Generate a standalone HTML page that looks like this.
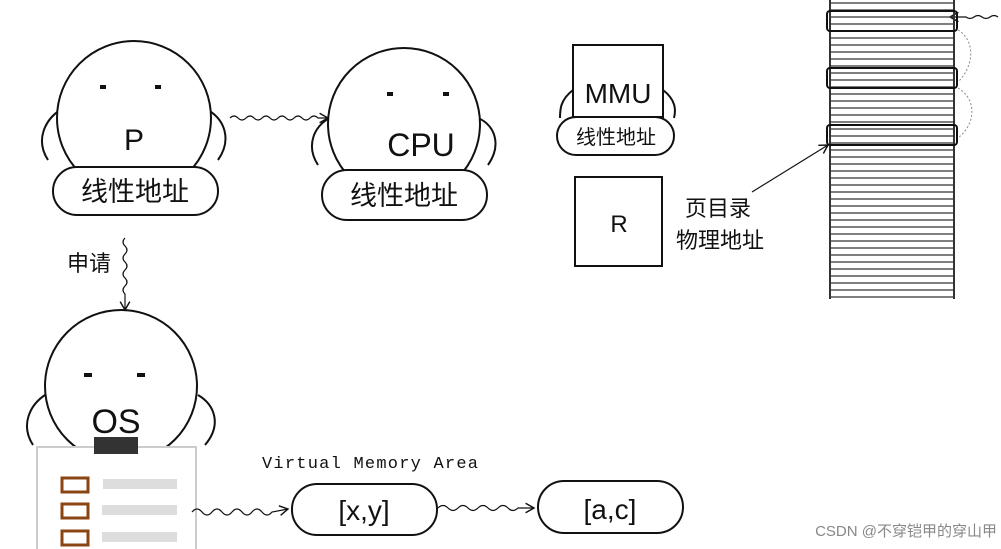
<!DOCTYPE html><html><head><style>body{margin:0;background:#fff}svg{display:block}
text{font-family:"Liberation Sans","Noto Sans CJK SC",sans-serif;fill:#111}</style></head><body>
<svg width="1001" height="549" viewBox="0 0 1001 549" xmlns="http://www.w3.org/2000/svg">
<defs><marker id="a" markerWidth="10" markerHeight="10" refX="8" refY="5" orient="auto"><path d="M1,1 L8,5 L1,9" fill="none" stroke="#111" stroke-width="1.2"/></marker></defs>
<g fill="none" stroke="#111" stroke-width="2">
<path d="M60,110 C45,120 35,140 48,160 M208,110 C225,120 232,140 218,160"/>
<circle cx="134" cy="118" r="77" fill="#fff"/>
<rect x="53" y="167" width="165" height="48" rx="24" fill="#fff"/>
<path d="M330,118 C315,125 305,145 318,165 M478,118 C495,125 502,145 488,165"/>
<circle cx="404" cy="124" r="76" fill="#fff"/>
<rect x="322" y="170" width="165" height="50" rx="25" fill="#fff"/>
<path d="M45,395 C30,405 20,425 33,445 M198,395 C215,405 222,425 205,445"/>
<circle cx="121" cy="386" r="76" fill="#fff"/>
<path d="M573,90 C560,100 560,110 560,118 M663,90 C676,100 676,110 674,118"/>
<rect x="573" y="45" width="90" height="72" fill="#fff"/>
<rect x="557" y="117" width="117" height="38" rx="19" fill="#fff"/>
<rect x="575" y="177" width="87" height="89" fill="#fff"/>
<rect x="292" y="484" width="145" height="51" rx="25" fill="#fff"/>
<rect x="538" y="481" width="145" height="52" rx="26" fill="#fff"/>
</g>
<g stroke="#111" stroke-width="4">
<path d="M100,87h6M155,87h6M387,94h6M443,94h6M84,375h8M137,375h8"/>
</g>
<text x="134" y="150" font-size="30" text-anchor="middle">P</text>
<text x="135" y="201" font-size="27" text-anchor="middle">线性地址</text>
<text x="421" y="156" font-size="32" text-anchor="middle">CPU</text>
<text x="404" y="205" font-size="27" text-anchor="middle">线性地址</text>
<text x="116" y="433" font-size="34" text-anchor="middle">OS</text>
<text x="618" y="103" font-size="28" text-anchor="middle">MMU</text>
<text x="616" y="144" font-size="20" text-anchor="middle">线性地址</text>
<text x="619" y="232" font-size="24" text-anchor="middle">R</text>
<text x="718" y="216" font-size="22" text-anchor="middle">页目录</text>
<text x="720" y="248" font-size="22" text-anchor="middle">物理地址</text>
<text x="89" y="271" font-size="22" text-anchor="middle">申请</text>
<text x="262" y="468" font-size="17" textLength="216" style="font-family:'Liberation Mono',monospace">Virtual Memory Area</text>
<text x="364" y="520" font-size="28" text-anchor="middle">[x,y]</text>
<text x="610" y="519" font-size="28" text-anchor="middle">[a,c]</text>
<text x="997" y="536" font-size="15" text-anchor="end" style="fill:#888">CSDN @不穿铠甲的穿山甲</text>
<rect x="37" y="447" width="159" height="110" fill="#fff" stroke="#ccc" stroke-width="2"/>
<rect x="94" y="437" width="44" height="17" fill="#333"/>
<g fill="none" stroke="#8b4513" stroke-width="3"><rect x="62" y="478" width="26" height="14"/><rect x="62" y="504" width="26" height="14"/><rect x="62" y="531" width="26" height="14"/></g>
<g fill="#ddd"><rect x="103" y="479" width="74" height="10"/><rect x="102" y="505" width="75" height="10"/><rect x="102" y="532" width="75" height="10"/></g>
<g fill="none" stroke="#111" stroke-width="1.2" marker-end="url(#a)">
<path d="M230,118 q4,-4 8,0 t8,0 t8,0 t8,0 t8,0 t8,0 t8,0 t8,0 t8,0 t8,0 t8,0 l10,0"/>
<path d="M125,238 q-4,4 0,8 t0,8 t0,8 t0,8 t0,8 t0,8 t0,8 l0,16"/>
<path d="M192,512 q5,-6 10,0 t10,0 t10,0 t10,0 t10,0 t10,0 t10,0 t10,0 l16,-3"/>
<path d="M438,508 q5,-5 10,0 t10,0 t10,0 t10,0 t10,0 t10,0 t10,0 t10,0 l16,0"/>
<path d="M998,17 q-4,-3 -8,0 t-8,0 t-8,0 t-8,0 l-16,0"/>
<path d="M752,192 L828,145"/>
</g>
<g stroke="#333" stroke-width="2">
<line x1="830" y1="0" x2="830" y2="299"/><line x1="954" y1="0" x2="954" y2="299"/>
</g>
<g stroke="#333" stroke-width="1.3">
<path d="M830,3h124M830,10h124M830,17h124M830,24h124M830,31h124M830,38h124M830,45h124M830,52h124M830,59h124M830,66h124M830,73h124M830,80h124M830,87h124M830,94h124M830,101h124M830,108h124M830,115h124M830,122h124M830,129h124M830,136h124M830,143h124M830,150h124M830,157h124M830,164h124M830,171h124M830,178h124M830,185h124M830,192h124M830,199h124M830,206h124M830,213h124M830,220h124M830,227h124M830,234h124M830,241h124M830,248h124M830,255h124M830,262h124M830,269h124M830,276h124M830,283h124M830,290h124M830,297h124"/>
</g>
<g fill="none" stroke="#111" stroke-width="2">
<rect x="827" y="11" width="130" height="20" rx="3"/><rect x="827" y="68" width="130" height="20" rx="3"/><rect x="827" y="125" width="130" height="20" rx="3"/>
</g>
<g fill="none" stroke="#888" stroke-width="1" stroke-dasharray="2,2">
<path d="M958,30 C975,40 975,65 958,82"/><path d="M958,88 C978,100 975,125 958,138"/>
</g>
</svg></body></html>
